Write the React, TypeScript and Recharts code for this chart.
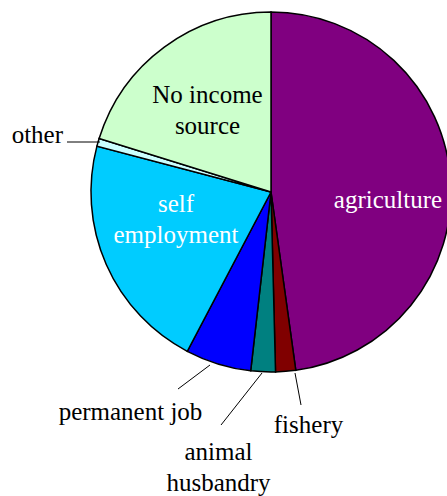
import React from 'react';
import { PieChart, Pie, Cell } from 'recharts';

// income source shares (%), clockwise from 12 o'clock
const categories = [
  'agriculture',
  'fishery',
  'animal husbandry',
  'permanent job',
  'self employment',
  'other',
  'No income source',
];
const shares = [47.8, 1.8, 2.2, 5.9, 21.4, 0.7, 20.2];

const colors = ['#800080', '#800000', '#008080', '#0000FF', '#00CCFF', '#CCFFFF', '#CCFFCC'];

const W = 447;
const H = 496;
const CX = 271;
const CY = 192;
const R = 180;
const FONT = "'Liberation Serif', 'Times New Roman', serif";

// label placement relative to pie centre (lines of text, first baseline, optional leader)
type LabelLayout = {
  lines: string[];
  dx: number;
  dy: number;
  anchor: 'start' | 'middle' | 'end';
  fill: string;
  leader?: [number, number, number, number];
};

const labelLayout: LabelLayout[] = [
  { lines: ['agriculture'], dx: 117, dy: 16, anchor: 'middle', fill: '#fff' },
  { lines: ['fishery'], dx: 37.5, dy: 241, anchor: 'middle', fill: '#000', leader: [30, 213, 24, 181] },
  { lines: ['animal', 'husbandry'], dx: -52.5, dy: 268, anchor: 'middle', fill: '#000', leader: [-50, 233, -9, 181] },
  { lines: ['permanent job'], dx: -140.5, dy: 228, anchor: 'middle', fill: '#000', leader: [-93, 197, -61, 173] },
  { lines: ['self', 'employment'], dx: -95, dy: 20, anchor: 'middle', fill: '#fff' },
  { lines: ['other'], dx: -208, dy: -49, anchor: 'end', fill: '#000', leader: [-204, -50, -171, -50] },
  { lines: ['No income', 'source'], dx: -63.5, dy: -89, anchor: 'middle', fill: '#000' },
];

const data = categories.map((name, i) => ({ name, value: shares[i] }));

const renderLabel = (props: any) => {
  const l = labelLayout[props.index];
  if (!l) return null;
  return (
    <g key={`lbl-${props.index}`}>
      {l.leader && (
        <line
          x1={CX + l.leader[0]}
          y1={CY + l.leader[1]}
          x2={CX + l.leader[2]}
          y2={CY + l.leader[3]}
          stroke="#000"
          strokeWidth={1}
        />
      )}
      <text
        x={CX + l.dx}
        y={CY + l.dy}
        textAnchor={l.anchor}
        fill={l.fill}
        style={{ fontFamily: FONT, fontSize: 25 }}
      >
        {l.lines.map((s, j) => (
          <tspan key={j} x={CX + l.dx} dy={j === 0 ? 0 : 31}>
            {s}
          </tspan>
        ))}
      </text>
    </g>
  );
};

export default function App() {
  return (
    <div style={{ position: 'absolute', left: 0, top: 0, width: W, height: H, background: '#fff' }}>
      <PieChart width={W} height={H} margin={{ top: 0, right: 0, bottom: 0, left: 0 }}>
        <Pie
          data={data}
          dataKey="value"
          nameKey="name"
          cx={CX}
          cy={CY}
          outerRadius={R}
          startAngle={90}
          endAngle={-270}
          stroke="#000"
          strokeWidth={1.5}
          label={renderLabel}
          labelLine={false}
          isAnimationActive={false}
        >
          {data.map((d, i) => (
            <Cell key={d.name} fill={colors[i]} />
          ))}
        </Pie>
      </PieChart>
    </div>
  );
}
